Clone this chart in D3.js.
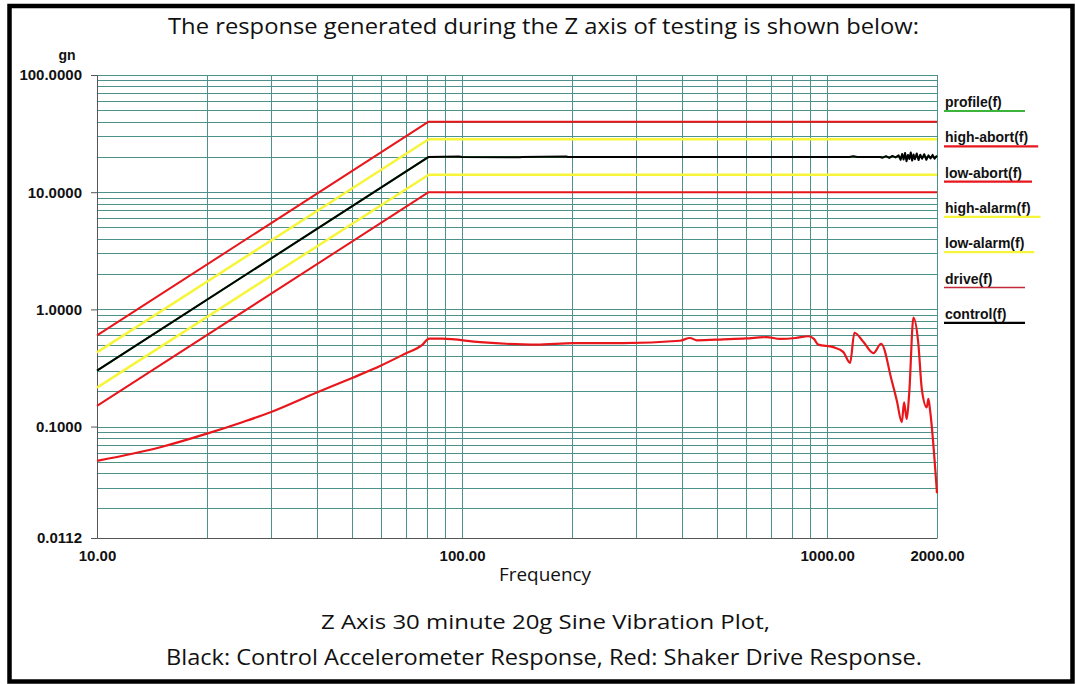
<!DOCTYPE html>
<html>
<head>
<meta charset="utf-8">
<script src="https://cdn.jsdelivr.net/npm/d3@7"></script>
<style>
  html, body { margin: 0; padding: 0; background: #fff; }
  svg { display: block; }
</style>
</head>
<body>
<svg id="chart" width="1076" height="684"></svg>
<script>
// limit / profile breakpoints (Hz, gn)
const limitFreq = [10, 81, 2000];
const profile = [0.3, 20, 20];
const highAbort = [0.6, 40, 40];
const lowAbort = [0.15, 10, 10];
const highAlarm = [0.43, 28.3, 28.3];
const lowAlarm = [0.215, 14.1, 14.1];

// control accelerometer response
const controlFreq = [10, 81, 98, 100, 144, 146, 193, 195, 1150, 1180, 1210, 1396, 1420, 1450, 1480, 1510, 1540,
  1570, 1590, 1605, 1620, 1635, 1650, 1665, 1680, 1695, 1710, 1725, 1740, 1760, 1780, 1800, 1820, 1845,
  1870, 1895, 1920, 1945, 1970, 2000];
const controlVal = [0.3, 20, 20.2, 20, 19.85, 20, 20.15, 20, 20, 20.3, 20, 20, 19.7, 20.3, 19.6, 20.4, 19.8,
  20.6, 18.9, 21.2, 19.0, 21.6, 18.4, 20.8, 19.2, 21.8, 18.6, 21.0, 19.1, 21.4, 18.8, 20.9, 19.3, 21.1,
  18.9, 20.6, 19.4, 20.8, 19.3, 20.5];

// shaker drive response
const driveFreq = [10, 15, 20, 25, 30, 40, 50, 60, 70, 77.5, 81.3, 88, 112, 160, 202, 276, 395, 421, 440,
  520, 600, 683, 743, 820, 889, 920, 946, 1040, 1108, 1156, 1188, 1258, 1339, 1406, 1503, 1552, 1602,
  1625, 1652, 1678, 1724, 1778, 1817, 1875, 1894, 1915, 2000];
const driveVal = [0.051, 0.067, 0.087, 0.109, 0.133, 0.195, 0.26, 0.332, 0.42, 0.493, 0.562, 0.562, 0.525,
  0.50, 0.515, 0.515, 0.54, 0.57, 0.545, 0.555, 0.565, 0.58, 0.56, 0.57, 0.59, 0.56, 0.5, 0.476, 0.432,
  0.35, 0.632, 0.526, 0.423, 0.509, 0.247, 0.167, 0.109, 0.161, 0.116, 0.19, 0.85, 0.509, 0.21, 0.146,
  0.172, 0.137, 0.027];

const yTickLabels = [100, 10, 1, 0.1, 0.0112];
const xTickLabels = [10, 100, 1000, 2000];
const legendNames = ["profile(f)", "high-abort(f)", "low-abort(f)", "high-alarm(f)", "low-alarm(f)", "drive(f)", "control(f)"];

const titleText = "The response generated during the Z axis of testing is shown below:";
const caption1 = "Z Axis 30 minute 20g Sine Vibration Plot,";
const caption2 = "Black: Control Accelerometer Response, Red: Shaker Drive Response.";

const RED = "#e8171c", YELLOW = "#f7f53a", GREEN = "#3cb43c", GRID = "#4d928a";
const legendColors = [GREEN, RED, RED, YELLOW, YELLOW, "#c22a3a", "#000"];

const plotL = 97, plotR = 937, plotT = 75, plotB = 538;
const svg = d3.select("#chart");

const x = d3.scaleLog().domain([10, 2000]).range([plotL, plotR]);
const y = d3.scaleLog().domain([0.0112, 100]).range([plotB, plotT]);

// outer frame
svg.append("rect")
  .attr("x", 9.5).attr("y", 6).attr("width", 1063).attr("height", 675.5)
  .attr("fill", "none").attr("stroke", "#000").attr("stroke-width", 4.5);

// grid values: 1..9 per decade, clipped to the domain
const xGrid = [];
for (let d = 10; d <= 1000; d *= 10) for (let m = 1; m <= 9; m++) if (d * m <= 2000) xGrid.push(d * m);
const yGrid = [];
for (let d = 0.01; d <= 10.1; d *= 10) for (let m = 1; m <= 9; m++) {
  const v = +(d * m).toPrecision(3);
  if (v > 0.0112) yGrid.push(v);
}
yGrid.push(100);

const grid = svg.append("g");
grid.selectAll("line.h").data(yGrid).join("line")
  .attr("x1", plotL).attr("x2", plotR)
  .attr("y1", (d) => Math.round(y(d)) + 0.5).attr("y2", (d) => Math.round(y(d)) + 0.5)
  .attr("stroke", GRID).attr("stroke-width", 1);
grid.selectAll("line.v").data(xGrid).join("line")
  .attr("y1", plotT).attr("y2", plotB)
  .attr("x1", (d) => Math.round(x(d)) + 0.5).attr("x2", (d) => Math.round(x(d)) + 0.5)
  .attr("stroke", GRID).attr("stroke-width", 1);

// axes
const yAxis = d3.axisLeft(y).tickValues(yTickLabels).tickSize(6).tickPadding(9)
  .tickFormat((d) => d.toFixed(4));
svg.append("g").attr("transform", `translate(${plotL},0)`).call(yAxis)
  .call((g) => g.select(".domain").attr("stroke", "#555"))
  .call((g) => g.selectAll(".tick line").attr("stroke", "#555"))
  .call((g) => g.selectAll("text").attr("font-family", "Liberation Sans, Arial, sans-serif")
    .attr("font-size", 15).attr("font-weight", "bold").attr("fill", "#111"));

const xAxis = d3.axisBottom(x).tickValues(xTickLabels).tickSize(0).tickPadding(12)
  .tickFormat((d) => d.toFixed(2));
svg.append("g").attr("transform", `translate(0,${plotB})`).call(xAxis)
  .call((g) => g.select(".domain").attr("stroke", "#555"))
  .call((g) => g.selectAll("text").attr("font-family", "Liberation Sans, Arial, sans-serif")
    .attr("font-size", 15).attr("font-weight", "bold").attr("fill", "#111"));

svg.append("text").attr("x", 67).attr("y", 60).attr("text-anchor", "middle")
  .attr("font-family", "Liberation Sans, Arial, sans-serif").attr("font-size", 14)
  .attr("font-weight", "bold").attr("fill", "#111").text("gn");

// series
const line = d3.line().x((d) => x(d[0])).y((d) => y(d[1]));
const smooth = d3.line().x((d) => x(d[0])).y((d) => y(d[1])).curve(d3.curveMonotoneX);
const series = [
  { f: limitFreq, v: lowAbort, color: RED, w: 2 },
  { f: limitFreq, v: highAbort, color: RED, w: 2 },
  { f: limitFreq, v: lowAlarm, color: YELLOW, w: 2.5 },
  { f: limitFreq, v: highAlarm, color: YELLOW, w: 2.5 },
  { f: limitFreq, v: profile, color: GREEN, w: 2 },
  { f: controlFreq, v: controlVal, color: "#000", w: 2 },
  { f: driveFreq, v: driveVal, color: RED, w: 2.2, smooth: true },
];
svg.append("g").selectAll("path").data(series).join("path")
  .attr("d", (s) => (s.smooth ? smooth : line)(s.f.map((f, i) => [f, s.v[i]])))
  .attr("fill", "none").attr("stroke", (s) => s.color).attr("stroke-width", (s) => s.w)
  .attr("stroke-linejoin", "round");

// legend
const legend = svg.append("g").selectAll("g").data(legendNames).join("g")
  .attr("transform", (d, i) => `translate(945,${107 + i * 35.3})`);
legend.append("text")
  .attr("font-family", "Liberation Sans, Arial, sans-serif").attr("font-size", 14)
  .attr("font-weight", "bold").attr("fill", "#111").text((d) => d);
legend.append("line")
  .attr("x1", -1).attr("y1", 4).attr("y2", 4)
  .attr("x2", function () {
    const w = this.parentNode.querySelector("text").getComputedTextLength();
    return Math.max(w + 10, 80);
  })
  .attr("stroke", (d, i) => legendColors[i]).attr("stroke-width", (d, i) => (i === 5 ? 1.5 : 2.2));

// title and captions
const capFont = "Open Sans, Noto Sans, sans-serif";
function caption(text, x0, x1, base, size) {
  svg.append("text").attr("x", x0).attr("y", base)
    .attr("font-family", capFont).attr("font-size", size).attr("fill", "#111")
    .attr("textLength", x1 - x0).attr("lengthAdjust", "spacingAndGlyphs").text(text);
}
caption(titleText, 168, 919, 34, 21);
caption("Frequency", 499, 591, 581, 18);
caption(caption1, 321, 770, 629, 20);
caption(caption2, 166, 922, 665, 21);
</script>
</body>
</html>
